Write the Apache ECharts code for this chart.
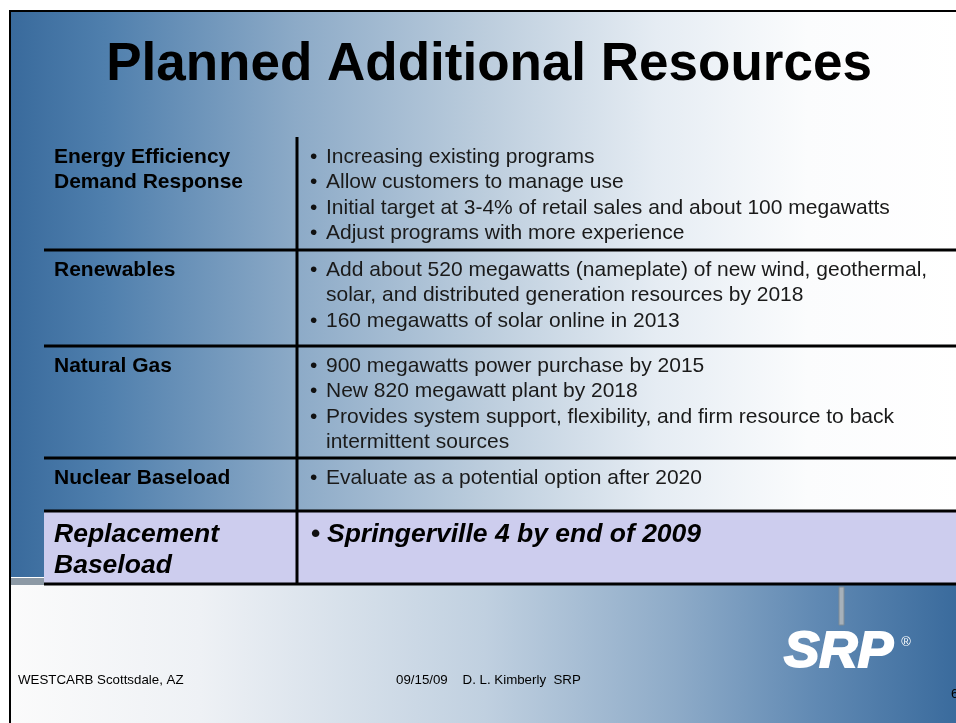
<!DOCTYPE html>
<html>
<head>
<meta charset="utf-8">
<script src="https://cdn.jsdelivr.net/npm/echarts@6/dist/echarts.min.js"></script>
<style>
html, body { margin: 0; padding: 0; background: #fff; }
#chart1 { width: 956px; height: 723px; }
</style>
</head>
<body>
<div id="chart1"></div>
<script>
// slide content
var titleText = 'Planned Additional Resources';
var categories = [
    ['Energy Efficiency', 'Demand Response'],
    ['Renewables'],
    ['Natural Gas'],
    ['Nuclear Baseload'],
    ['Replacement', 'Baseload']
];
// each bullet is a list of its wrapped lines
var bullets = [
    [['Increasing existing programs'], ['Allow customers to manage use'],
     ['Initial target at 3-4% of retail sales and about 100 megawatts'], ['Adjust programs with more experience']],
    [['Add about 520 megawatts (nameplate) of new wind, geothermal,', 'solar, and distributed generation resources by 2018'],
     ['160 megawatts of solar online in 2013']],
    [['900 megawatts power purchase by 2015'], ['New 820 megawatt plant by 2018'],
     ['Provides system support, flexibility, and firm resource to back', 'intermittent sources']],
    [['Evaluate as a potential option after 2020']],
    [['Springerville 4 by end of 2009']]
];
var highlightRow = 4;
var footerLeft = 'WESTCARB Scottsdale, AZ';
var footerMid = '09/15/09    D. L. Kimberly  SRP';
var pageNo = '6';
var logoText = 'SRP';

// layout
var FONT = '"Liberation Sans", Arial, sans-serif';
var rowEdges = [137, 250, 346, 458, 511, 584];
var tableLeft = 44, colSplit = 297, tableRight = 960;

function txt(str, x, baseline, size, weight, style, color, align) {
    return {
        type: 'text',
        x: x,
        y: baseline - 0.347 * size + 1.5,
        style: {
            text: str,
            fill: color || '#000',
            font: (style || 'normal') + ' ' + (weight || 'normal') + ' ' + size + 'px ' + FONT,
            align: align || 'left',
            verticalAlign: 'middle'
        }
    };
}

function buildGraphics() {
    var g = [];
    // upper background
    g.push({
        type: 'rect', shape: { x: 10, y: 11, width: 950, height: 566 },
        style: { fill: new echarts.graphic.LinearGradient(0, 0, 1, 0, [
            { offset: 0, color: '#396a9c' },
            { offset: 0.1, color: '#4f7fad' },
            { offset: 0.3, color: '#8caac7' },
            { offset: 0.5, color: '#bccddd' },
            { offset: 0.68, color: '#e5ecf3' },
            { offset: 0.84, color: '#fbfcfd' },
            { offset: 1, color: '#ffffff' }
        ]) }
    });
    // grey divider band
    g.push({ type: 'rect', shape: { x: 10, y: 578, width: 950, height: 7 }, style: { fill: '#8c99a5' } });
    // lower background
    g.push({
        type: 'rect', shape: { x: 10, y: 585, width: 950, height: 140 },
        style: { fill: new echarts.graphic.LinearGradient(0, 0, 1, 0, [
            { offset: 0, color: '#fbfbfb' },
            { offset: 0.2, color: '#eef1f5' },
            { offset: 0.5, color: '#c0d0e0' },
            { offset: 0.7, color: '#8eabc8' },
            { offset: 0.85, color: '#6089b3' },
            { offset: 1, color: '#396a9c' }
        ]) }
    });
    // frame
    g.push({ type: 'polyline', shape: { points: [[10, 730], [10, 11], [960, 11]] },
        style: { stroke: '#000', lineWidth: 2, fill: null } });

    // title
    g.push(txt(titleText, 489, 82, 53, 'bold', 'normal', '#000', 'center'));

    // highlighted row
    g.push({ type: 'rect', shape: { x: tableLeft, y: rowEdges[highlightRow], width: tableRight - tableLeft,
        height: rowEdges[highlightRow + 1] - rowEdges[highlightRow] }, style: { fill: '#cdcdee' } });

    // rows
    categories.forEach(function (lines, i) {
        var top = rowEdges[i];
        var hl = i === highlightRow;
        var size = hl ? 26.5 : 21;
        var step = hl ? 31 : 25.6;
        var first = top + (hl ? 31 : 25.5);
        var st = hl ? 'italic' : 'normal';
        lines.forEach(function (s, k) {
            g.push(txt(s, 54, first + k * step, size, 'bold', st, '#000'));
        });
        var n = 0;
        bullets[i].forEach(function (b) {
            g.push(txt('\u2022', hl ? 311 : 310, first + n * step, size, hl ? 'bold' : 'normal', 'normal', '#111'));
            b.forEach(function (s) {
                g.push(txt(s, hl ? 327 : 326, first + n * step, size, hl ? 'bold' : 'normal', st, hl ? '#000' : '#1a1a1a'));
                n++;
            });
        });
    });

    // grid lines
    for (var r = 1; r < rowEdges.length; r++) {
        g.push({ type: 'line', shape: { x1: tableLeft, y1: rowEdges[r], x2: tableRight, y2: rowEdges[r] },
            style: { stroke: '#000', lineWidth: 3 } });
    }
    g.push({ type: 'line', shape: { x1: colSplit, y1: rowEdges[0], x2: colSplit, y2: rowEdges[rowEdges.length - 1] + 1 },
        style: { stroke: '#000', lineWidth: 3 } });

    // logo post and logo
    g.push({ type: 'rect', shape: { x: 839, y: 587, width: 5, height: 38 },
        style: { fill: '#a7b1ba', stroke: '#7d8a96', lineWidth: 1 } });
    var logo = txt(logoText, 0, 0, 50, '900', 'italic', '#ffffff');
    logo.x = 784;
    logo.y = 669 - 0.347 * 50 + 1.5;
    logo.scaleX = 1.06;
    logo.style.stroke = '#ffffff';
    logo.style.lineWidth = 2;
    g.push(logo);
    g.push(txt('\u00ae', 906, 645, 13, 'normal', 'normal', '#ffffff', 'center'));

    // footer
    g.push(txt(footerLeft, 18, 683, 13.3, 'normal', 'normal', '#000'));
    g.push(txt(footerMid, 396, 683, 13.3, 'normal', 'normal', '#000'));
    g.push(txt(pageNo, 951, 697, 13.3, 'normal', 'normal', '#000'));
    return g;
}

var mychart = echarts.init(document.getElementById('chart1'));
mychart.setOption({
    animation: false,
    graphic: { elements: buildGraphics() }
});
</script>
</body>
</html>
